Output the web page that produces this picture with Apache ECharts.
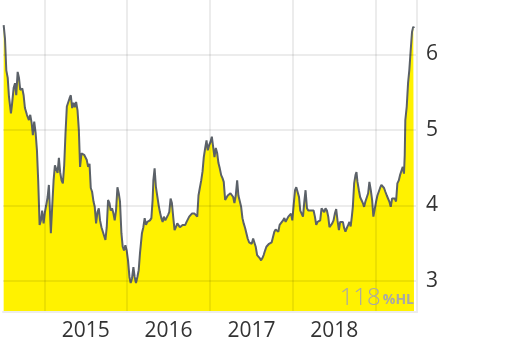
<!DOCTYPE html>
<html>
<head>
<meta charset="utf-8">
<script src="https://cdn.jsdelivr.net/npm/echarts@6/dist/echarts.min.js"></script>
<style>
html,body{margin:0;padding:0;background:#fff;}
#chart{width:512px;height:346px;}
</style>
</head>
<body>
<div id="chart"></div>
<script>
// Time (decimal years) and values
const dates = [
2014.508,2014.524,2014.540,2014.557,2014.572,2014.596,2014.608,2014.629,2014.645,2014.660,
2014.677,2014.693,2014.708,2014.733,2014.749,2014.765,2014.789,2014.813,2014.829,2014.846,
2014.861,2014.877,2014.894,2014.910,2014.925,2014.942,2014.958,2014.973,2014.990,2015.006,
2015.022,2015.039,2015.054,2015.078,2015.094,2015.111,2015.127,2015.142,2015.159,2015.175,
2015.190,2015.207,2015.223,2015.239,2015.255,2015.271,2015.287,2015.304,2015.319,2015.335,
2015.352,2015.367,2015.383,2015.400,2015.416,2015.431,2015.448,2015.464,2015.480,2015.496,
2015.512,2015.528,2015.545,2015.560,2015.576,2015.593,2015.608,2015.624,2015.641,2015.657,
2015.672,2015.689,2015.705,2015.720,2015.737,2015.753,2015.769,2015.786,2015.801,2015.817,
2015.834,2015.849,2015.865,2015.882,2015.898,2015.913,2015.930,2015.946,2015.961,2015.978,
2015.994,2016.010,2016.027,2016.042,2016.058,2016.075,2016.090,2016.106,2016.123,2016.139,
2016.154,2016.178,2016.195,2016.211,2016.227,2016.243,2016.259,2016.275,2016.292,2016.307,
2016.316,2016.331,2016.347,2016.364,2016.380,2016.395,2016.412,2016.428,2016.443,2016.460,
2016.476,2016.492,2016.508,2016.524,2016.540,2016.557,2016.572,2016.588,2016.605,2016.620,
2016.636,2016.653,2016.669,2016.684,2016.701,2016.717,2016.733,2016.749,2016.765,2016.781,
2016.798,2016.813,2016.829,2016.846,2016.861,2016.877,2016.894,2016.910,2016.925,2016.942,
2016.958,2016.973,2016.990,2017.006,2017.022,2017.039,2017.054,2017.070,2017.087,2017.102,
2017.118,2017.135,2017.151,2017.166,2017.183,2017.199,2017.214,2017.231,2017.247,2017.263,
2017.280,2017.295,2017.311,2017.328,2017.343,2017.359,2017.376,2017.392,2017.407,2017.424,
2017.440,2017.455,2017.472,2017.488,2017.504,2017.521,2017.536,2017.552,2017.569,2017.584,
2017.600,2017.617,2017.633,2017.648,2017.665,2017.681,2017.696,2017.713,2017.729,2017.745,
2017.761,2017.777,2017.793,2017.810,2017.825,2017.841,2017.855,2017.882,2017.898,2017.913,
2017.930,2017.946,2017.961,2017.978,2017.994,2018.010,2018.027,2018.042,2018.058,2018.075,
2018.090,2018.106,2018.123,2018.139,2018.154,2018.171,2018.187,2018.202,2018.219,2018.235,
2018.251,2018.267,2018.283,2018.299,2018.316,2018.331,2018.347,2018.364,2018.380,2018.395,
2018.412,2018.428,2018.443,2018.460,2018.476,2018.492,2018.508,2018.524,2018.540,2018.557,
2018.572,2018.588,2018.605,2018.620,2018.636,2018.653,2018.669,2018.684,2018.699,2018.713,
2018.725,2018.741,2018.757,2018.769,2018.781,2018.798,2018.813,2018.829,2018.846,2018.861,
2018.877,2018.894,2018.910,2018.925,2018.942,2018.958,2018.973,2018.990,2019.006,2019.022,
2019.039,2019.054,2019.070,2019.087,2019.102,2019.118,2019.135,2019.151,2019.166,2019.183,
2019.199,2019.214,2019.231,2019.247,2019.263,2019.280,2019.295,2019.311,2019.328,2019.343,
2019.352,2019.359,2019.376,2019.392,2019.407,2019.424,2019.440,2019.455,2019.464
];
const values = [
6.39,6.21,5.79,5.69,5.44,5.22,5.33,5.56,5.62,5.46,
5.77,5.69,5.53,5.55,5.46,5.29,5.20,5.13,5.20,5.09,
4.93,5.11,4.96,4.73,4.33,3.74,3.80,3.93,3.76,3.91,
4.00,4.11,4.27,3.63,3.98,4.33,4.53,4.51,4.43,4.63,
4.44,4.33,4.29,4.53,4.96,5.31,5.33,5.42,5.46,5.29,
5.36,5.30,5.37,5.26,5.00,4.51,4.69,4.71,4.67,4.69,
4.60,4.51,4.55,4.23,4.18,4.05,3.98,3.76,3.91,3.96,
3.80,3.71,3.70,3.60,3.54,3.71,4.07,4.03,3.93,3.96,
3.89,3.80,3.93,4.24,4.16,4.05,3.63,3.45,3.40,3.47,
3.40,3.27,3.05,2.97,3.03,3.18,3.05,2.97,3.05,3.14,
3.36,3.63,3.71,3.83,3.74,3.78,3.76,3.80,3.83,4.07,
4.33,4.49,4.24,4.23,4.00,3.91,3.83,3.78,3.85,3.80,
3.80,3.87,3.91,4.09,4.03,3.83,3.67,3.71,3.76,3.75,
3.71,3.70,3.74,3.76,3.74,3.78,3.80,3.85,3.87,3.89,
3.91,3.89,3.87,3.85,4.13,4.23,4.33,4.45,4.64,4.76,
4.86,4.73,4.80,4.84,4.91,4.93,4.64,4.76,4.69,4.56,
4.49,4.40,4.36,4.31,4.07,4.09,4.13,4.15,4.16,4.17,
4.11,4.03,4.13,4.33,4.13,4.13,3.98,3.83,3.76,3.70,
3.70,3.56,3.51,3.51,3.49,3.56,3.58,3.45,3.34,3.34,
3.30,3.27,3.30,3.34,3.40,3.45,3.47,3.49,3.49,3.51,
3.58,3.65,3.68,3.67,3.65,3.74,3.76,3.80,3.83,3.78,
3.80,3.85,3.83,3.89,3.80,4.00,4.20,4.24,4.23,4.11,
3.93,3.91,3.85,4.05,4.20,3.96,3.93,3.91,3.93,3.91,
3.93,3.85,3.74,3.78,3.76,3.80,3.96,3.98,3.91,3.96,
3.93,3.85,3.71,3.73,3.76,3.80,3.89,3.95,3.80,3.67,
3.78,3.80,3.78,3.70,3.65,3.70,3.74,3.78,3.72,3.85,
3.98,4.29,4.40,4.44,4.31,4.20,4.11,4.07,4.03,3.98,
4.05,4.05,4.16,4.31,4.20,4.07,3.85,3.87,4.05,4.13,
4.15,4.23,4.27,4.29,4.23,4.18,4.13,4.11,4.05,3.98,
4.09,4.07,4.09,4.05,4.29,4.33,4.40,4.42,4.51,4.42,
4.67,5.13,5.31,5.62,5.79,6.06,6.30,6.37,6.35
];
// half-year grid points: Jan marks get a grid line, mid-year carries the year label
const yearLabels = ['', '', '2015', '', '2016', '', '2017', '', '2018', '', ''];
const watermarkValue = '118';
const watermarkUnit = '%HL';

const chart = echarts.init(document.getElementById('chart'), null, {renderer: 'canvas'});
const seriesData = dates.map((d, i) => [d, values[i]]);
const gridColor = 'rgba(0,0,0,0.075)';
chart.setOption({
  animation: false,
  grid: {left: 2, right: 95, top: 0, bottom: 34, containLabel: false},
  xAxis: [
    {
      type: 'value', min: 2014.5, max: 2019.5, show: false, position: 'top'
    },
    {
      type: 'category', data: yearLabels, boundaryGap: false, position: 'bottom', z: 5,
      axisLine: {show: true, lineStyle: {color: '#ececec', width: 2}},
      axisTick: {show: false},
      axisLabel: {interval: 0, color: '#333', fontSize: 21, fontFamily: 'Open Sans', margin: 9},
      splitLine: {show: true, interval: function (i) { return i % 2 === 1; },
                  lineStyle: {color: gridColor, width: 2}}
    }
  ],
  yAxis: {
    type: 'value', position: 'right', min: 2.585, max: 6.723, splitNumber: 4, z: 5,
    axisLine: {show: true, lineStyle: {color: '#ececec', width: 2}},
    axisTick: {show: false},
    axisLabel: {color: '#333', fontSize: 21, fontFamily: 'Open Sans', margin: 9,
                showMinLabel: false, showMaxLabel: false,
                formatter: function (v) { return Number.isInteger(v) ? String(v) : ''; }},
    splitLine: {show: true, showMinLine: false, showMaxLine: false,
                lineStyle: {color: gridColor, width: 2}}
  },
  series: [{
    type: 'line', xAxisIndex: 0, data: seriesData, symbol: 'none', z: 2,
    lineStyle: {color: '#5b6168', width: 2},
    areaStyle: {color: '#fff200', opacity: 1, origin: 'start'}
  }],
  graphic: [{
    type: 'text', right: 98, bottom: 36, z: 10,
    style: {
      text: '{a|' + watermarkValue + '}{b|' + watermarkUnit + '}',
      rich: {
        a: {fontSize: 24, fontFamily: 'Open Sans', fontWeight: 300, fill: '#a8a8a8'},
        b: {fontSize: 14, fontFamily: 'Open Sans', fontWeight: 'bold', fill: '#a8a8a8', padding: [5, 0, 0, 2]}
      }
    }
  }]
});
</script>
</body>
</html>
